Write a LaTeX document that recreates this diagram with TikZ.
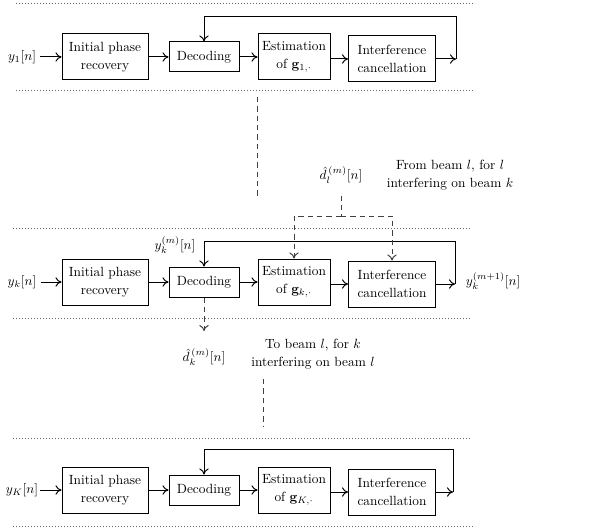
\documentclass[tikz,border=0pt]{standalone}
\usetikzlibrary{arrows.meta}

\tikzset{every picture/.style={line width=0.75pt}}
\tikzset{
  blk/.style={draw, align=center, inner sep=1pt},
  inibox/.style={blk, minimum width=64.5pt, minimum height=34.5pt},
  decbox/.style={blk, minimum width=52.5pt, minimum height=22.5pt},
  estbox/.style={blk, minimum width=54pt, minimum height=34.5pt},
  canbox/.style={blk, minimum width=65.25pt, minimum height=34.5pt},
  arr/.style={-{To[length=4.5pt,width=7pt]}},
  dashln/.style={draw=black!75, dash pattern={on 4pt off 3pt}},
  dotln/.style={draw=black!60, dash pattern={on 0.75pt off 1.5pt}},
}

\begin{document}
\begin{tikzpicture}[x=0.75pt,y=0.75pt,yscale=-1,xscale=1,
  every node/.style={font=\fontsize{10}{13.5}\selectfont}]
\useasboundingbox (0,0) rectangle (606,531);

%Dotted Lines (beam separators)
\draw [dotln] (16,4) -- (473,4);
\draw [dotln] (16,91) -- (475,91);
\draw [dotln] (13,228) -- (470,228);
\draw [dotln] (13,318) -- (470,318);
\draw [dotln] (13,438) -- (470,438);
\draw [dotln] (13,526) -- (473,526);

%Dashed Lines (other beams)
\draw [dashln] (257,97) -- (257,198);
\draw [dashln] (263,379) -- (263,427);

%Beam 1
% Text Node
\node [inner sep=3pt] (y1) at (22,57) {$y_1[n]$};
%Shape: Rectangle
\node [inibox] (ini1) at (105,57) {Initial phase\\recovery};
\node [decbox] (dec1) at (204,57) {Decoding};
\node [estbox] (est1) at (294,57) {Estimation\\of $\mathbf{g}_{1,\cdot}$};
\node [canbox] (can1) at (392,59) {Interference\\cancellation};
\coordinate (fb1) at (456,59);
\coordinate (tp1) at (456,17);
%Straight Lines
\draw [arr] (y1) -- (ini1);
\draw [arr] (ini1) -- (dec1);
\draw [arr] (dec1) -- (est1);
\draw [arr] (est1.east |- can1) -- (can1);
\draw [arr] (can1) -- (fb1);
\draw [arr] (fb1) -- (tp1) -| (dec1.north);

%Beam k
% Text Node
\node [inner sep=3pt] (yk) at (22,282) {$y_k[n]$};
%Shape: Rectangle
\node [inibox] (inik) at (105,282) {Initial phase\\recovery};
\node [decbox] (deck) at (204,282) {Decoding};
\node [estbox] (estk) at (294,282) {Estimation\\of $\mathbf{g}_{k,\cdot}$};
\node [canbox] (cank) at (392,284) {Interference\\cancellation};
\coordinate (fbk) at (455,284);
\coordinate (tpk) at (455,241);
%Straight Lines
\draw [arr] (yk) -- (inik);
\draw [arr] (inik) -- (deck);
\draw [arr] (deck) -- (estk);
\draw [arr] (estk.east |- cank) -- (cank);
\draw [arr] (cank) -- (fbk);
\draw [arr] (fbk) -- (tpk) -| (deck.north);
% Text Node
\node (ykm) at (175,245) {$y_k^{(m)}[n]$};
\node [anchor=west] (ykm1) at (461,281) {$y_k^{(m+1)}[n]$};

%From beam l
% Text Node
\node (dl) at (341,175) {$\hat{d}_l^{\,(m)}[n]$};
\node [align=center] (frombeam) at (450,175) {From beam $l$, for $l$\\interfering on beam $k$};
\coordinate (spl) at (341,216);
\draw [dashln, shorten <=5pt] (dl) -- (spl);
\draw [dashln, arr] (spl) -| (estk.north);
\draw [dashln, arr] (spl) -| (cank.north);

%To beam l
% Text Node
\node (dk) at (204,357) {$\hat{d}_k^{\,(m)}[n]$};
\node [align=center] (tobeam) at (313,354) {To beam $l$, for $k$\\interfering on beam $l$};
\draw [dashln, arr, shorten >=9pt] (deck) -- (dk);

%Beam K
% Text Node
\node [inner sep=1pt] (yK) at (22,490) {$y_K[n]$};
%Shape: Rectangle
\node [inibox] (iniK) at (105,490) {Initial phase\\recovery};
\node [decbox] (decK) at (204,490) {Decoding};
\node [estbox] (estK) at (294,490) {Estimation\\of $\mathbf{g}_{K,\cdot}$};
\node [canbox] (canK) at (392,492) {Interference\\cancellation};
\coordinate (fbK) at (453,492);
\coordinate (tpK) at (453,449);
%Straight Lines
\draw [arr] (yK) -- (iniK);
\draw [arr] (iniK) -- (decK);
\draw [arr] (decK) -- (estK);
\draw [arr] (estK.east |- canK) -- (canK);
\draw [arr] (canK) -- (fbK);
\draw [arr] (fbK) -- (tpK) -| (decK.north);

\end{tikzpicture}
\end{document}
